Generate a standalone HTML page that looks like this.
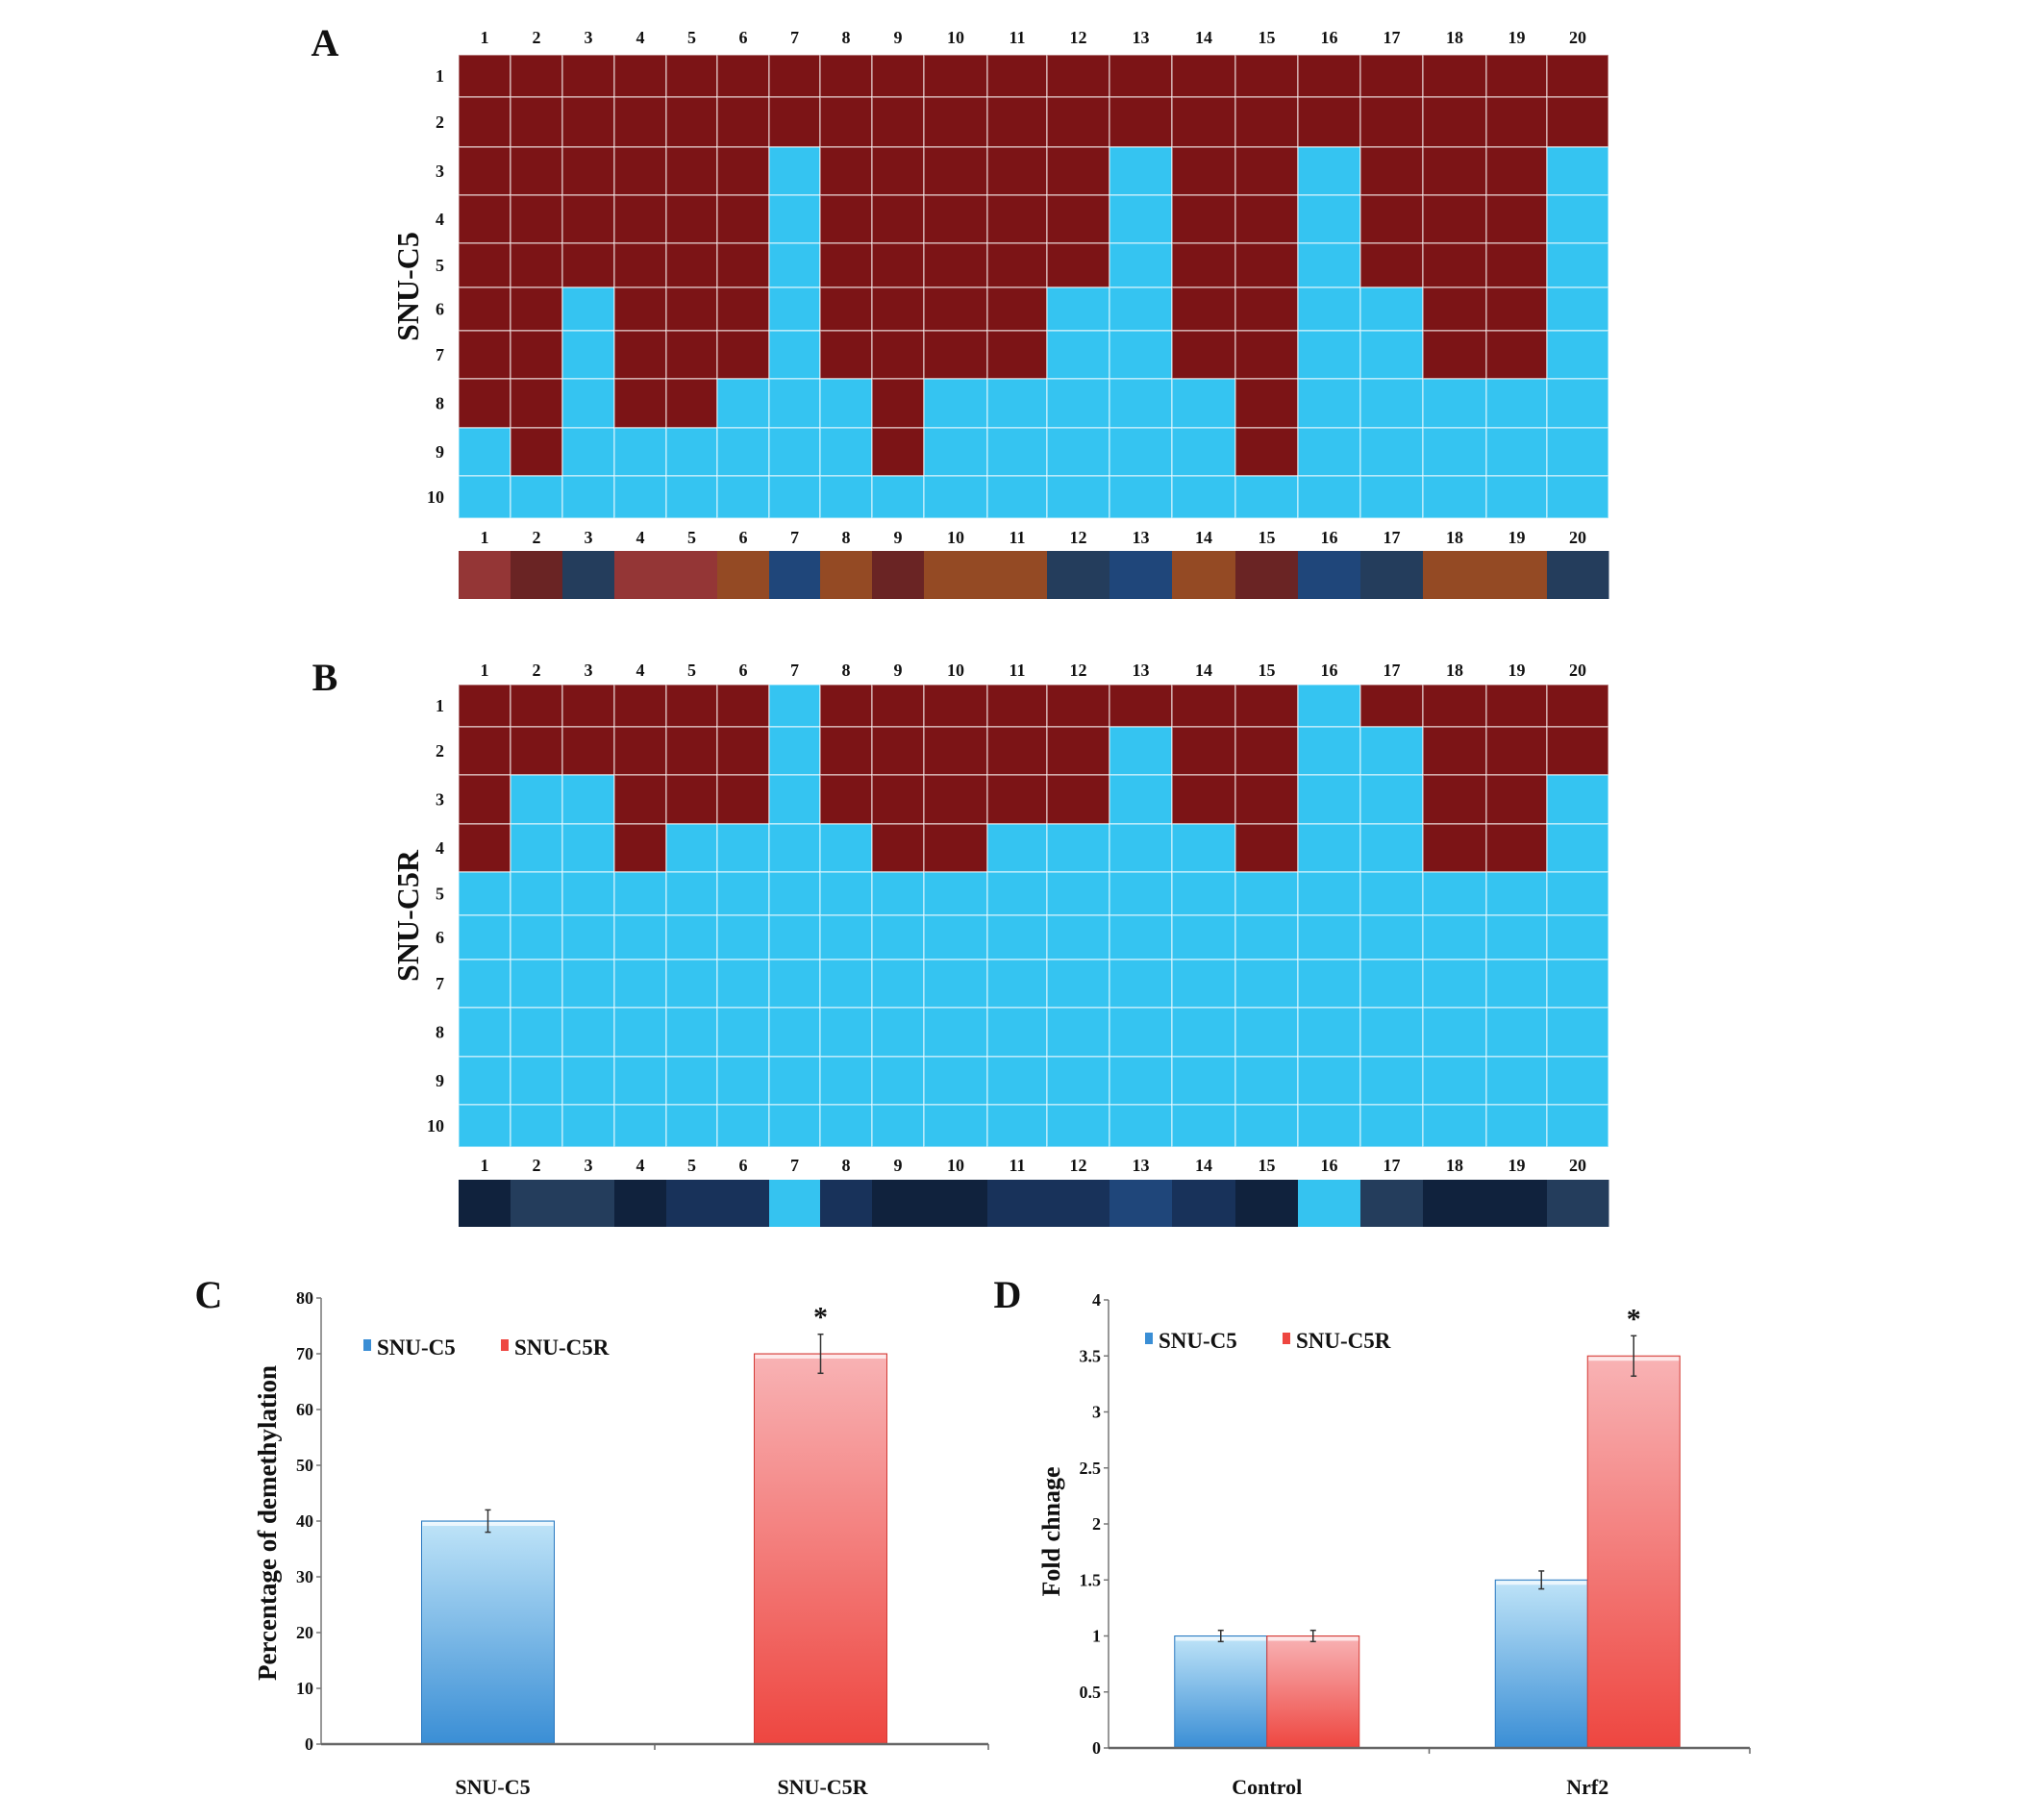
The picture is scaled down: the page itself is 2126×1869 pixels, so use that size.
<!DOCTYPE html>
<html><head><meta charset="utf-8">
<style>
html,body{margin:0;padding:0;background:#fff;}
svg{display:block;font-family:"Liberation Serif",serif;font-weight:bold;}
</style></head>
<body>
<svg id="fig" width="2126" height="1869" viewBox="0 0 2126 1869" xmlns="http://www.w3.org/2000/svg">
<defs>
<linearGradient id="gBlue" x1="0" y1="0" x2="0" y2="1"><stop offset="0" stop-color="#bfe4f8"/><stop offset="1" stop-color="#3a8ed5"/></linearGradient>
<linearGradient id="gRed" x1="0" y1="0" x2="0" y2="1"><stop offset="0" stop-color="#f8b3b5"/><stop offset="1" stop-color="#ee4640"/></linearGradient>
</defs>
</svg>
<script>
// ---- Heatmap data: number of methylated CpG rows (from top) per clone ----
const clones = [1,2,3,4,5,6,7,8,9,10,11,12,13,14,15,16,17,18,19,20];
const cpgSites = [1,2,3,4,5,6,7,8,9,10];
const methA = [8,9,5,8,8,7,2,7,9,7,7,5,2,7,9,2,5,7,7,2];
const methB = [4,2,2,4,3,3,0,3,4,4,3,3,1,3,4,0,1,4,4,2];
const barColorsA = ["#943636","#6a2424","#243d5c","#943636","#943636","#944a24","#1f467a","#944a24","#6a2424","#944a24","#944a24","#243d5c","#1f467a","#944a24","#6a2424","#1f467a","#243d5c","#944a24","#944a24","#243d5c"];
const barColorsB = ["#10223d","#243d5c","#243d5c","#10223d","#18325a","#18325a","#35c3f0","#18325a","#10223d","#10223d","#18325a","#18325a","#1f467a","#18325a","#10223d","#35c3f0","#243d5c","#10223d","#10223d","#243d5c"];
// ---- Bar chart C ----
const catsC = ["SNU-C5","SNU-C5R"];
const valsC = [40,70];
const errC = [2,3.5];
const ticksC = [0,10,20,30,40,50,60,70,80];
// ---- Bar chart D ----
const catsD = ["Control","Nrf2"];
const valsD_C5 = [1.0,1.5];
const valsD_C5R = [1.0,3.5];
const errD_C5 = [0.05,0.08];
const errD_C5R = [0.05,0.18];
const ticksD = [0,0.5,1,1.5,2,2.5,3,3.5,4];

const svg = document.getElementById('fig');
const NS = "http://www.w3.org/2000/svg";
function mk(tag, attrs, parent){const e=document.createElementNS(NS,tag);for(const k in attrs)e.setAttribute(k,attrs[k]);(parent||svg).appendChild(e);return e;}
function txt(x,y,s,size,anchor,parent){const t=mk('text',{x:x,y:y,'font-size':size,'text-anchor':anchor||'middle',fill:'#111'},parent);t.textContent=s;return t;}

// layout: column edges (grid geometry, not data)
const colEdges=[477,531,585,639,693,746,800,853,907,961,1027,1089,1154,1219,1285,1350,1415,1480,1546,1609,1673];
const rowEdgesA=[57,101,153,203,253,299,344,394,445,495,539];
const rowEdgesB=[712,756,806,857,907,952,998,1048,1099,1149,1193];
function colX(i){return colEdges[i];}
function colW(i){return colEdges[i+1]-colEdges[i];}

function heatmap(panel,meth,rowEdges,barColors,barY,barH,topLblY,botLblY,title,letter,letterY){
  const g=mk('g',{});
  
  
  const L=txt(338,letterY,letter,40,'middle',g);
  
  
  clones.forEach((c,i)=>{
    const tl=txt(colX(i)+colW(i)/2,topLblY,String(c),18,'middle',g);
    
    
    const bl=txt(colX(i)+colW(i)/2,botLblY,String(c),18,'middle',g);
    
    
    cpgSites.forEach((r,j)=>{
      const methylated = j < meth[i];
      const cell=mk('rect',{x:colX(i),y:rowEdges[j],width:colW(i),height:rowEdges[j+1]-rowEdges[j],fill:methylated?'#7c1416':'#35c4f1',stroke:'rgba(255,255,255,0.55)','stroke-width':1.5},g);
      
      
    });
    const bar=mk('rect',{x:colX(i),y:barY,width:colW(i)+0.5,height:barH,fill:barColors[i]},g);
    
    
  });
  cpgSites.forEach((r,j)=>{
    const rl=txt(462,(rowEdges[j]+rowEdges[j+1])/2+6,String(r),18,'end',g);
    
    
  });
  const cy=(rowEdges[0]+rowEdges[10])/2;
  const t=mk('text',{x:0,y:0,'font-size':32,'text-anchor':'middle',fill:'#111',transform:`translate(435,${cy}) rotate(-90)`},g);
  t.textContent=title;
  
  
}
heatmap('a',methA,rowEdgesA,barColorsA,573,50,45,565,'SNU-C5','A',58);
heatmap('b',methB,rowEdgesB,barColorsB,1227,49,703,1218,'SNU-C5R','B',718);

// ---- generic bar chart helpers ----
function errBar(g,x,yTop,yBot){
  mk('line',{x1:x,y1:yTop,x2:x,y2:yBot,stroke:'#333','stroke-width':1.5},g);
  mk('line',{x1:x-3,y1:yTop,x2:x+3,y2:yTop,stroke:'#333','stroke-width':1.5},g);
  mk('line',{x1:x-3,y1:yBot,x2:x+3,y2:yBot,stroke:'#333','stroke-width':1.5},g);
}
function drawBar(g,x,w,yv,y0,grad,edge){
  const b=mk('rect',{x:x,y:yv,width:w,height:y0-yv,fill:grad,stroke:edge,'stroke-width':1},g);
  mk('rect',{x:x+1,y:yv+1,width:w-2,height:4,fill:'#fff',opacity:0.7},g);
  return b;
}
function legend(g,x1,x2,y){
  const m1=mk('rect',{x:x1,y:y-14,width:8,height:12,fill:'#3a8ed5'},g);
  
  
  const t1=txt(x1+14,y+2,'SNU-C5',23,'start',g);
  
  
  const m2=mk('rect',{x:x2,y:y-14,width:8,height:12,fill:'#ee4640'},g);
  
  
  const t2=txt(x2+14,y+2,'SNU-C5R',23,'start',g);
  
  
}

// Chart C
(function(){
  const g=mk('g',{});
  
  
  const ax=334, y0=1814, yTopPx=1350, xEnd=1028, max=80;
  const yS=v=>y0-(v/max)*(y0-yTopPx);
  const bandW=(xEnd-ax)/catsC.length;
  const xC=i=>ax+bandW*(i+0.5);
  const L=txt(217,1360,'C',40,'middle',g);
  
  
  mk('line',{x1:ax,y1:yTopPx,x2:ax,y2:y0,stroke:'#777','stroke-width':1.5},g);
  ticksC.forEach(v=>{
    mk('line',{x1:ax-5,y1:yS(v),x2:ax,y2:yS(v),stroke:'#777','stroke-width':1.5},g);
    const t=txt(ax-8,yS(v)+6,String(v),18,'end',g);
    
    
  });
  valsC.forEach((v,i)=>{
    const w=138, x=xC(i)-w/2+(i===0?0:-1);
    const b=drawBar(g,x,w,yS(v),y0,i===0?'url(#gBlue)':'url(#gRed)',i===0?'#2a78c0':'#d33a35');
    
    
    errBar(g,x+w/2,yS(v+errC[i]),yS(v-errC[i]));
    const c=txt(x+w/2+(i===0?5:2),1866,catsC[i],22,'middle',g);
    
    
  });
  const star=txt(xC(1)-1,yS(valsC[1]+errC[1])-8,'*',30,'middle',g);
  
  
  mk('line',{x1:ax,y1:y0,x2:xEnd,y2:y0,stroke:'#666','stroke-width':2.5},g);
  mk('line',{x1:ax+bandW,y1:y0,x2:ax+bandW,y2:y0+6,stroke:'#666','stroke-width':1.5},g);
  mk('line',{x1:xEnd,y1:y0,x2:xEnd,y2:y0+6,stroke:'#666','stroke-width':1.5},g);
  const yt=mk('text',{x:0,y:0,'font-size':27,'text-anchor':'middle',fill:'#111',transform:'translate(287,1584) rotate(-90)'},g);
  yt.textContent='Percentage of demethylation';
  
  
  legend(g,378,521,1407);
})();

// Chart D
(function(){
  const g=mk('g',{});
  
  
  const ax=1153, y0=1818, yTopPx=1352, xEnd=1820, max=4;
  const yS=v=>y0-(v/max)*(y0-yTopPx);
  const bandW=(xEnd-ax)/catsD.length;
  const xC=i=>ax+bandW*(i+0.5);
  const L=txt(1048,1360,'D',40,'middle',g);
  
  
  mk('line',{x1:ax,y1:yTopPx,x2:ax,y2:y0,stroke:'#777','stroke-width':1.5},g);
  ticksD.forEach(v=>{
    mk('line',{x1:ax-5,y1:yS(v),x2:ax,y2:yS(v),stroke:'#777','stroke-width':1.5},g);
    const t=txt(ax-8,yS(v)+6,String(v),18,'end',g);
    
    
  });
  const w=96;
  catsD.forEach((c,i)=>{
    const cx=xC(i)-2;
    const b1=drawBar(g,cx-w,w,yS(valsD_C5[i]),y0,'url(#gBlue)','#2a78c0');
    
    
    errBar(g,cx-w/2,yS(valsD_C5[i]+errD_C5[i]),yS(valsD_C5[i]-errD_C5[i]));
    const b2=drawBar(g,cx,w,yS(valsD_C5R[i]),y0,'url(#gRed)','#d33a35');
    
    
    errBar(g,cx+w/2,yS(valsD_C5R[i]+errD_C5R[i]),yS(valsD_C5R[i]-errD_C5R[i]));
    const t=txt(cx,1866,c,22,'middle',g);
    
    
  });
  const star=txt(xC(1)-2+w/2,yS(valsD_C5R[1]+errD_C5R[1])-8,'*',30,'middle',g);
  
  
  mk('line',{x1:ax,y1:y0,x2:xEnd,y2:y0,stroke:'#666','stroke-width':2.5},g);
  mk('line',{x1:ax+bandW,y1:y0,x2:ax+bandW,y2:y0+6,stroke:'#666','stroke-width':1.5},g);
  mk('line',{x1:xEnd,y1:y0,x2:xEnd,y2:y0+6,stroke:'#666','stroke-width':1.5},g);
  const yt=mk('text',{x:0,y:0,'font-size':26,'text-anchor':'middle',fill:'#111',transform:'translate(1102,1593) rotate(-90)'},g);
  yt.textContent='Fold chnage';
  
  
  legend(g,1191,1334,1400);
})();
</script>
</body></html>
